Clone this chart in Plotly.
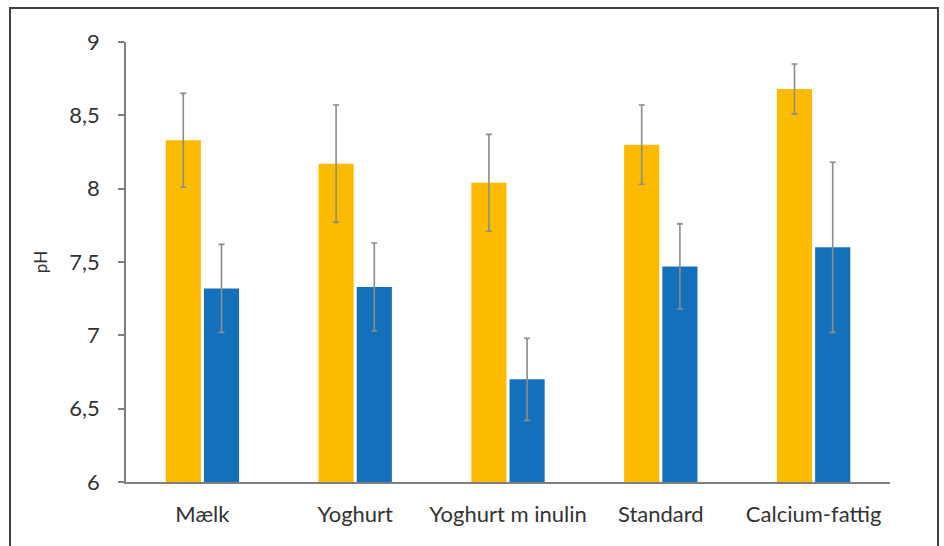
import plotly.graph_objects as go

categories = ["Mælk", "Yoghurt", "Yoghurt m inulin", "Standard", "Calcium-fattig"]
gold_values = [8.33, 8.17, 8.04, 8.30, 8.68]
gold_errors = [0.32, 0.40, 0.33, 0.27, 0.17]
blue_values = [7.32, 7.33, 6.70, 7.47, 7.60]
blue_errors = [0.30, 0.30, 0.28, 0.29, 0.58]
y_ticks = [6, 6.5, 7, 7.5, 8, 8.5, 9]
y_tick_labels = ["6", "6,5", "7", "7,5", "8", "8,5", "9"]

GOLD = "#FDBB00"
BLUE = "#1470BA"
ERR = "#8C8C8C"
FONT = "Lato"
TEXT = "#333333"

fig = go.Figure()
fig.add_trace(go.Bar(
    x=categories, y=gold_values, marker_color=GOLD, marker_line_width=0,
    error_y=dict(type="data", array=gold_errors, visible=True, color=ERR, thickness=1.6, width=3),
    showlegend=False))
fig.add_trace(go.Bar(
    x=categories, y=blue_values, marker_color=BLUE, marker_line_width=0,
    error_y=dict(type="data", array=blue_errors, visible=True, color=ERR, thickness=1.6, width=3),
    showlegend=False))

l, r, t, b = 126, 54, 42, 64
W, H = 944, 546
pw, ph = W - l - r, H - t - b

fig.update_layout(
    width=W, height=H,
    margin=dict(l=l, r=r, t=t, b=b),
    paper_bgcolor="white", plot_bgcolor="white",
    barmode="group", bargap=0.5, bargroupgap=0.08,
    font=dict(family=FONT, color=TEXT),
    xaxis=dict(showline=True, linecolor="#7F7F7F", linewidth=1.5, ticks="",
               tickfont=dict(size=22, family=FONT, color=TEXT), showgrid=False,
               ticklabelstandoff=12),
    yaxis=dict(range=[6, 9], tickvals=y_ticks, ticktext=y_tick_labels,
               showline=True, linecolor="#7F7F7F", linewidth=1.5,
               ticks="outside", ticklen=6, tickcolor="#7F7F7F", tickwidth=1.5,
               tickfont=dict(size=22, family=FONT, color=TEXT),
               ticklabelstandoff=14,
               showgrid=False, zeroline=False,
               title=dict(text="pH", font=dict(size=17, family=FONT, color=TEXT), standoff=17)),
)

# outer frame (bottom edge lies below the visible page)
fig.add_shape(type="rect", xref="paper", yref="paper",
              x0=(10 - l) / pw, x1=(938 - l) / pw,
              y0=(H - b - 560) / ph, y1=(H - b - 8) / ph,
              line=dict(color="#404040", width=2), fillcolor="rgba(0,0,0,0)", layer="above")

fig.write_html("out.html", config={"displayModeBar": False},
               post_script="document.body.style.margin='0';document.body.style.padding='0';")
